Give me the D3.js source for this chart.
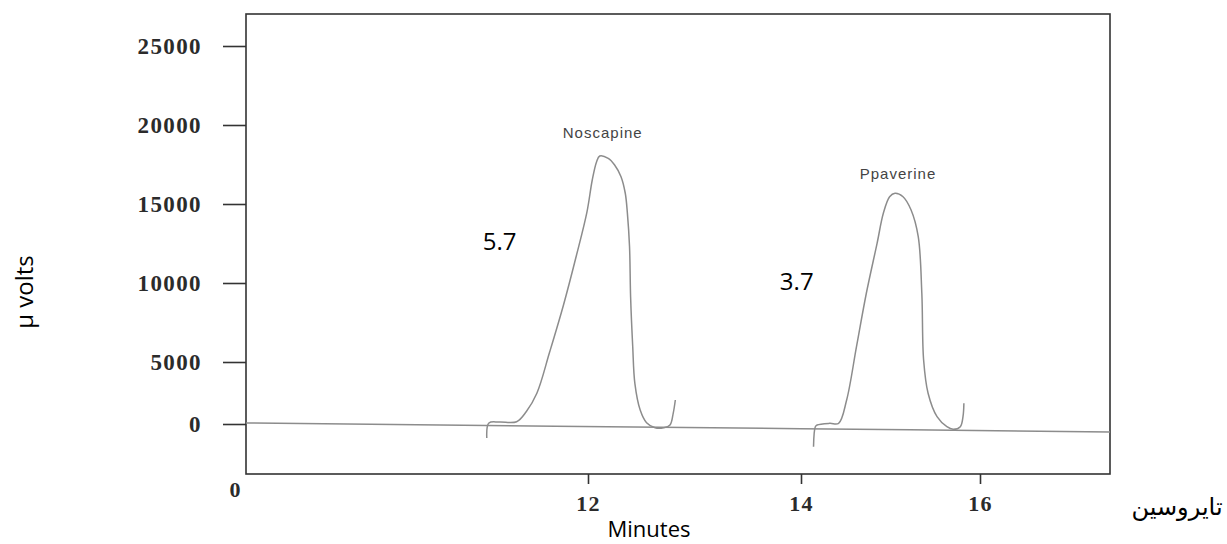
<!DOCTYPE html>
<html>
<head>
<meta charset="utf-8">
<script src="https://cdn.jsdelivr.net/npm/d3@7/dist/d3.min.js"></script>
<style>
  html, body { margin: 0; padding: 0; background: #ffffff; }
  svg { display: block; }
</style>
</head>
<body>
<svg id="chart" width="1227" height="544"></svg>
<script>
// ---------------- data ----------------
const yTickValues = [0, 5000, 10000, 15000, 20000, 25000];
const xTickValues = [12, 14, 16];
const xOriginLabel = "0";

const peakNames = ["Noscapine", "Ppaverine"];
const peakAnnotations = ["5.7", "3.7"];

// Noscapine trace (minutes, µV)
const noscapineTime = [11.05, 11.07, 11.17, 11.33, 11.42, 11.52, 11.64, 11.77, 11.89, 11.99, 12.04, 12.08, 12.11, 12.19, 12.25, 12.31, 12.35, 12.37, 12.39, 12.40, 12.42, 12.44, 12.49, 12.55, 12.63, 12.71, 12.77, 12.80, 12.82];
const noscapineUV   = [-1130, 80, 160, 185, 990, 2480, 5630, 8610, 11710, 14490, 16520, 17660, 18040, 17890, 17470, 16730, 15680, 14410, 12300, 9130, 5970, 3280, 1130, 105, -300, -300, -80, 860, 1935];

// Papaverine trace (minutes, µV)
const papaverineTime = [14.14, 14.16, 14.18, 14.32, 14.42, 14.51, 14.62, 14.73, 14.85, 14.92, 14.99, 15.05, 15.14, 15.23, 15.31, 15.35, 15.37, 15.42, 15.52, 15.63, 15.70, 15.78, 15.81, 15.82];
const papaverineUV   = [-1830, -220, -80, 55, 55, 1935, 5970, 9350, 12510, 14410, 15460, 15680, 15460, 14620, 12930, 9350, 5130, 2480, 590, -220, -430, -220, 590, 1670];

// Baseline (minutes, µV)
const baselineTime = [8.79, 14.0, 17.45];
const baselineUV   = [80, -380, -645];

const yAxisTitle = "\u00B5 volts";
const xAxisTitle = "Minutes";
const sideLabel = "تايروسين";

// ---------------- layout ----------------
const svg = d3.select("#chart");
const plotL = 246, plotR = 1110, plotT = 14, plotB = 474;

// scanned axes are not evenly spaced: piecewise-linear scales
const x = d3.scaleLinear()
  .domain([8.79, 12, 14, 16, 17.45])
  .range([plotL, 588, 801, 980, plotR]);
const y = d3.scaleLinear()
  .domain([-4030, 0, 5000, 25000, 27025])
  .range([plotB, 424, 362, 46, plotT]);

const axisColor = "#333";
const traceColor = "#8c8c8c";
const tickFont = "'Liberation Serif', 'DejaVu Serif', serif";

// frame
svg.append("rect")
  .attr("x", plotL).attr("y", plotT)
  .attr("width", plotR - plotL).attr("height", plotB - plotT)
  .attr("fill", "none").attr("stroke", axisColor).attr("stroke-width", 1.6);

// y axis
const yAxis = svg.append("g")
  .attr("transform", `translate(${plotL},0)`)
  .call(d3.axisLeft(y).tickValues(yTickValues).tickSize(23).tickPadding(21).tickFormat(d3.format("d")));
yAxis.select(".domain").remove();
yAxis.selectAll(".tick line").attr("stroke", axisColor).attr("stroke-width", 1.6);
yAxis.selectAll(".tick text")
  .attr("fill", "#2b2b2b")
  .style("font-family", tickFont)
  .style("font-weight", "bold")
  .style("font-size", "23px")
  .style("letter-spacing", "1.4px");

// x axis
const xAxis = svg.append("g")
  .attr("transform", `translate(0,${plotB})`)
  .call(d3.axisBottom(x).tickValues(xTickValues).tickSize(10).tickPadding(11).tickFormat(d3.format("d")));
xAxis.select(".domain").remove();
xAxis.selectAll(".tick line").attr("stroke", axisColor).attr("stroke-width", 1.6);
xAxis.selectAll(".tick text")
  .attr("fill", "#2b2b2b")
  .style("font-family", tickFont)
  .style("font-weight", "bold")
  .style("font-size", "22px")
  .style("letter-spacing", "1.2px");

// origin label
svg.append("text")
  .attr("x", x.range()[0] - 11).attr("y", plotB + 23)
  .attr("text-anchor", "middle")
  .attr("fill", "#2b2b2b")
  .style("font-family", tickFont)
  .style("font-weight", "bold")
  .style("font-size", "22px")
  .text(xOriginLabel);

// traces
const line = d3.line()
  .x(d => x(d[0]))
  .y(d => y(d[1]))
  .curve(d3.curveCatmullRom.alpha(0.5));

const series = [
  d3.zip(baselineTime, baselineUV),
  d3.zip(noscapineTime, noscapineUV),
  d3.zip(papaverineTime, papaverineUV)
];
svg.append("g").selectAll("path")
  .data(series)
  .join("path")
  .attr("d", line)
  .attr("fill", "none")
  .attr("stroke", traceColor)
  .attr("stroke-width", 1.5)
  .attr("stroke-linejoin", "round");

// peak names above maxima
const peaks = [d3.zip(noscapineTime, noscapineUV), d3.zip(papaverineTime, papaverineUV)];
const nameOffsets = [-18, -14];
peaks.forEach((pts, i) => {
  const m = pts[d3.maxIndex(pts, d => d[1])];
  svg.append("text")
    .attr("x", x(m[0]) + 3)
    .attr("y", y(m[1]) + nameOffsets[i])
    .attr("text-anchor", "middle")
    .attr("fill", "#444")
    .style("font-family", "'Liberation Sans', Arial, sans-serif")
    .style("font-size", "15px")
    .style("letter-spacing", "1px")
    .text(peakNames[i]);
});

// annotations left of each peak
const annoPos = [[11.17, 12090], [13.96, 9560]];
peakAnnotations.forEach((t, i) => {
  svg.append("text")
    .attr("x", x(annoPos[i][0]))
    .attr("y", y(annoPos[i][1]))
    .attr("text-anchor", "middle")
    .attr("fill", "#000")
    .style("font-family", "'Open Sans', sans-serif")
    .style("font-size", "24px")
    .text(t);
});

// axis titles
svg.append("text")
  .attr("transform", "translate(33,292) rotate(-90)")
  .attr("text-anchor", "middle")
  .attr("fill", "#000")
  .style("font-family", "'Open Sans', sans-serif")
  .style("font-size", "24px")
  .text(yAxisTitle);

svg.append("text")
  .attr("x", 649).attr("y", 537)
  .attr("text-anchor", "middle")
  .attr("fill", "#000")
  .style("font-family", "'Open Sans', sans-serif")
  .style("font-size", "22px")
  .text(xAxisTitle);

svg.append("text")
  .attr("x", 1177).attr("y", 515)
  .attr("text-anchor", "middle")
  .attr("direction", "rtl")
  .attr("fill", "#000")
  .style("font-family", "'DejaVu Sans', 'Noto Sans', sans-serif")
  .style("font-size", "24px")
  .text(sideLabel);
</script>
</body>
</html>
